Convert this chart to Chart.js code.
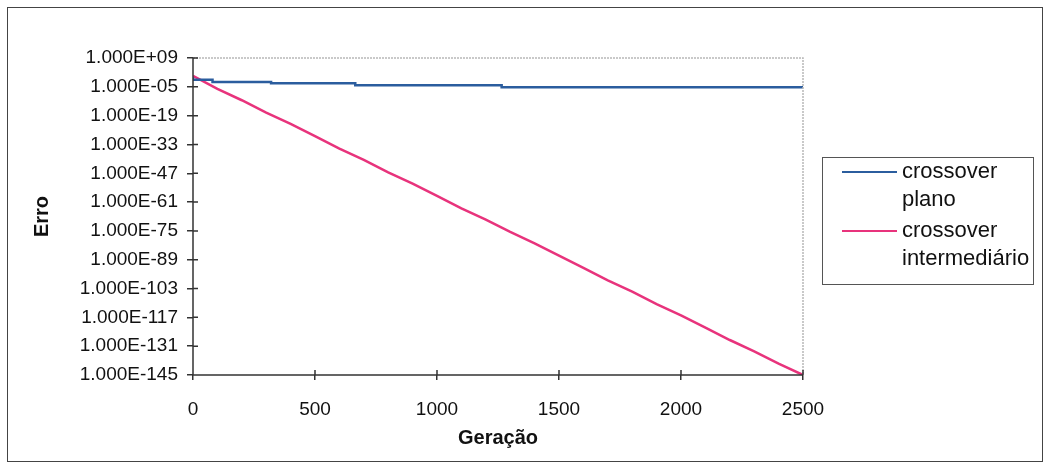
<!DOCTYPE html>
<html>
<head>
<meta charset="utf-8">
<script src="https://cdn.jsdelivr.net/npm/chart.js@4.4.1/dist/chart.umd.min.js"></script>
<style>
  body { margin: 0; background: #fff; }
  #wrap { position: relative; width: 1051px; height: 471px; }
  #frame { position: absolute; left: 7px; top: 7px; width: 1036px; height: 455px; border: 1.5px solid #444; box-sizing: border-box; pointer-events: none; }
  #legend { position: absolute; left: 822px; top: 157px; width: 212px; height: 128px; border: 1.5px solid #555; box-sizing: border-box;
            font-family: 'Liberation Sans', Arial, sans-serif; font-size: 22px; color: #111; }
  .item { position: absolute; left: 0; }
  .swatch { position: absolute; left: 19px; width: 55px; height: 2px; }
  .txt { position: absolute; left: 79px; line-height: 28px; white-space: nowrap; }
</style>
</head>
<body>
<div id="wrap">
  <canvas id="chart" width="1051" height="471"></canvas>
  <div id="frame"></div>
  <div id="legend"></div>
</div>
<script>
// x axis: generations
const xMin = 0, xMax = 2500, xStep = 500;

// y axis: log scale, tick every 14 decades
const yTickValues = [1e9, 1e-5, 1e-19, 1e-33, 1e-47, 1e-61, 1e-75, 1e-89, 1e-103, 1e-117, 1e-131, 1e-145];
const yTickLabels = ['1.000E+09', '1.000E-05', '1.000E-19', '1.000E-33', '1.000E-47', '1.000E-61',
                     '1.000E-75', '1.000E-89', '1.000E-103', '1.000E-117', '1.000E-131', '1.000E-145'];

// crossover plano (step changes)
const planoGen = [0, 80, 320, 665, 1265, 1880, 2500];
const planoErr = [4e-1, 3e-2, 2e-3, 5e-4, 6e-5, 6e-6, 6e-6];

// crossover intermediário
const interGen = [0, 100, 200, 300, 400, 500, 600, 700, 800, 900, 1000, 1100, 1200,
                  1300, 1400, 1500, 1600, 1700, 1800, 1900, 2000, 2100, 2200, 2300, 2400, 2500];
const interErr = [2, 1e-6, 3e-12, 3e-18, 1e-23, 1e-29, 1e-35, 3e-41, 3e-47, 1e-52, 1e-58, 1e-64, 3e-70,
                  3e-76, 1e-81, 1e-87, 1e-93, 1e-99, 3e-105, 3e-111, 1e-116, 1e-122, 1e-128, 3e-134, 3e-140, 1e-145];

const seriesNames = [['crossover', 'plano'], ['crossover', 'intermediário']];
const seriesColors = ['#2b5d9e', '#e8337c'];

const FONT = "'Liberation Sans', Arial, sans-serif";

/* plot frame: dark left/bottom axes, light grey top/right, ticks crossing the axes */
const framePlugin = {
    id: 'framePlugin',
    afterDraw(chart) {
        const { ctx, chartArea: a, scales } = chart;
        ctx.save();
        ctx.strokeStyle = '#b8b8b8';
        ctx.lineWidth = 1.5;
        ctx.setLineDash([2, 1]);
        ctx.beginPath();
        ctx.moveTo(a.left, a.top); ctx.lineTo(a.right, a.top); ctx.lineTo(a.right, a.bottom);
        ctx.stroke();
        ctx.setLineDash([]);
        ctx.strokeStyle = '#333';
        ctx.lineWidth = 1.5;
        ctx.beginPath();
        ctx.moveTo(a.left, a.top); ctx.lineTo(a.left, a.bottom); ctx.lineTo(a.right, a.bottom);
        scales.y.ticks.forEach(t => {
            const py = scales.y.getPixelForValue(t.value);
            ctx.moveTo(a.left, py); ctx.lineTo(a.left + 5, py);
        });
        scales.x.ticks.forEach(t => {
            const px = scales.x.getPixelForValue(t.value);
            ctx.moveTo(px, a.bottom); ctx.lineTo(px, a.bottom - 5);
        });
        ctx.stroke();
        ctx.restore();
    }
};

new Chart(document.getElementById('chart'), {
    type: 'line',
    data: {
        datasets: [
            {
                label: seriesNames[0].join(' '),
                data: planoGen.map((g, i) => ({ x: g, y: planoErr[i] })),
                borderColor: seriesColors[0], borderWidth: 2.5,
                pointRadius: 0, stepped: 'after', fill: false
            },
            {
                label: seriesNames[1].join(' '),
                data: interGen.map((g, i) => ({ x: g, y: interErr[i] })),
                borderColor: seriesColors[1], borderWidth: 2.5,
                pointRadius: 0, tension: 0, fill: false
            }
        ]
    },
    options: {
        responsive: false,
        animation: false,
        layout: { padding: { left: 0, top: 58, right: 248, bottom: 0 } },
        plugins: { legend: { display: false }, tooltip: { enabled: false } },
        scales: {
            x: {
                type: 'linear', min: xMin, max: xMax,
                border: { display: false },
                grid: { drawOnChartArea: false, tickLength: 5, color: '#333', lineWidth: 1.5 },
                ticks: { stepSize: xStep, color: '#111', padding: 18, font: { family: FONT, size: 19 },
                         callback: v => String(v) },
                title: { display: true, text: 'Geração', color: '#111', padding: { top: 0, bottom: 21 },
                         font: { family: FONT, size: 20, weight: 'bold' } },
                afterFit: s => { s.height = 96; }
            },
            y: {
                type: 'logarithmic', min: 1e-145, max: 1e9,
                border: { display: false },
                grid: { drawOnChartArea: false, tickLength: 6, color: '#333', lineWidth: 1.5 },
                afterBuildTicks: s => { s.ticks = yTickValues.map(v => ({ value: v })); },
                ticks: {
                    color: '#111', padding: 9, autoSkip: false,
                    font: { family: FONT, size: 19 },
                    callback: (v, i) => yTickLabels[i]
                },
                title: { display: true, text: 'Erro', color: '#111', padding: { top: 30, bottom: 0 },
                         font: { family: FONT, size: 20, weight: 'bold' } },
                afterFit: s => { s.width = 193; }
            }
        }
    },
    plugins: [framePlugin]
});

// legend with two-line labels
const legend = document.getElementById('legend');
const rowTops = [0, 59];
seriesNames.forEach((lines, i) => {
    const item = document.createElement('div');
    item.className = 'item';
    item.style.top = (rowTops[i] - 1) + 'px';
    item.innerHTML = `<div class="swatch" style="top:14px;background:${seriesColors[i]}"></div>` +
        `<div class="txt" style="top:0">${lines[0]}<br>${lines[1]}</div>`;
    legend.appendChild(item);
});
</script>
</body>
</html>
